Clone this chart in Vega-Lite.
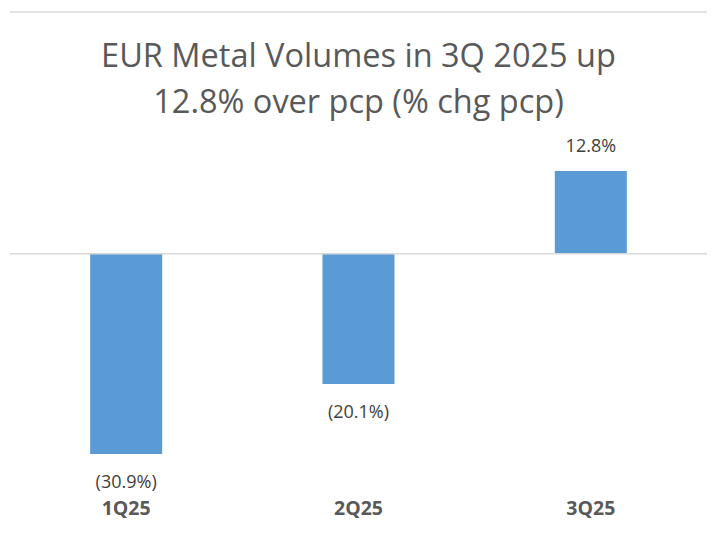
{
  "$schema": "https://vega.github.io/schema/vega-lite/v6.json",
  "autosize": {"type": "none"},
  "width": 697,
  "height": 475,
  "padding": {"left": 10, "top": 12, "right": 20, "bottom": 48},
  "background": "white",
  "config": {
    "view": {"stroke": null},
    "font": "Open Sans",
    "title": {"font": "Open Sans", "fontSize": 32.5, "fontWeight": "normal", "color": "#595959", "lineHeight": 46, "anchor": "middle", "baseline": "alphabetic", "offset": 0, "dy": 112}
  },
  "title": {"text": ["EUR Metal Volumes in 3Q 2025 up", "12.8% over pcp (% chg pcp)"]},
  "data": {
    "values": [
      {"quarter": "1Q25", "chg": -30.9, "label": "(30.9%)"},
      {"quarter": "2Q25", "chg": -20.1, "label": "(20.1%)"},
      {"quarter": "3Q25", "chg": 12.8, "label": "12.8%"}
    ]
  },
  "encoding": {
    "x": {
      "field": "quarter", "type": "nominal", "sort": null,
      "scale": {"paddingInner": 0.69, "paddingOuter": 0.345},
      "axis": {"title": null, "domain": false, "ticks": false, "labelAngle": 0, "labelFont": "Open Sans", "labelFontSize": 19.5, "labelFontWeight": "bold", "labelColor": "#595959", "labelPadding": 12}
    },
    "y": {"field": "chg", "type": "quantitative", "scale": {"domain": [-36, 37.35], "nice": false, "zero": false}, "axis": null}
  },
  "layer": [
    {
      "mark": {"type": "bar", "color": "#5b9bd5"}
    },
    {
      "mark": {"type": "text", "fontSize": 18, "color": "#404040", "baseline": "alphabetic", "dy": {"expr": "datum.chg >= 0 ? -19 : 34"}},
      "encoding": {"text": {"field": "label"}}
    },
    {
      "data": {"values": [{"v": 0}, {"v": 37.35}]},
      "mark": {"type": "rule", "color": "#d9d9d9", "strokeWidth": 1.5},
      "encoding": {"x": null, "y": {"field": "v", "type": "quantitative"}}
    }
  ]
}
